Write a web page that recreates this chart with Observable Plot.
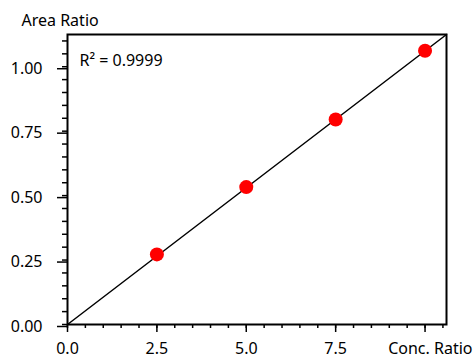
<!DOCTYPE html>
<html><head><meta charset="utf-8">
<script src="https://cdn.jsdelivr.net/npm/d3@7"></script>
<script src="https://cdn.jsdelivr.net/npm/@observablehq/plot@0.6"></script>
<style>body{margin:0;background:#fff}</style>
</head><body><div id="chart"></div>
<script>
const conc = [2.5, 5.0, 7.5, 10.0];
const area = [0.272, 0.533, 0.795, 1.062];
const fitX = [0, 10.6];
const fitY = [0, 1.125];
const xMajor = [0, 2.5, 5.0, 7.5, 10.0];
const xLabels = ["0.0", "2.5", "5.0", "7.5", ""];
const xMinor = [0, 0.5, 1, 1.5, 2, 2.5, 3, 3.5, 4, 4.5, 5, 5.5, 6, 6.5, 7, 7.5, 8, 8.5, 9, 9.5, 10, 10.5];
const yMajor = [0, 0.25, 0.5, 0.75, 1.0];
const yLabels = ["0.00", "0.25", "0.50", "0.75", "1.00"];
const yMinor = [0, 0.05, 0.1, 0.15, 0.2, 0.25, 0.3, 0.35, 0.4, 0.45, 0.5, 0.55, 0.6, 0.65, 0.7, 0.75, 0.8, 0.85, 0.9, 0.95, 1.0, 1.05, 1.1];
const titles = ["Area Ratio", "Conc. Ratio", "R² = 0.9999"];

const xl = new Map(xMajor.map((d, i) => [d, xLabels[i]]));
const yl = new Map(yMajor.map((d, i) => [d, yLabels[i]]));
const pts = conc.map((c, i) => ({c, a: area[i]}));
const fit = fitX.map((x, i) => ({x, y: fitY[i]}));

const chart = Plot.plot({
  width: 473, height: 358,
  marginLeft: 67, marginRight: 27, marginTop: 34, marginBottom: 34,
  style: {fontFamily: "Noto Sans", fontSize: "16px", color: "black", background: "white", overflow: "visible"},
  x: {domain: [0, 10.6]},
  y: {domain: [0, 1.125]},
  marks: [
    Plot.axisX(xMinor, {tickSize: 4, text: null, strokeWidth: 1.5, label: null}),
    Plot.axisX(xMajor, {tickSize: 8, tickPadding: 10, tickFormat: d => xl.get(d), strokeWidth: 1.5, label: null}),
    Plot.axisY(yMinor, {tickSize: 5, text: null, strokeWidth: 1.5, label: null}),
    Plot.axisY(yMajor, {tickSize: 10, tickPadding: 15, tickFormat: d => yl.get(d), strokeWidth: 1.5, label: null, dy: 2}),
    Plot.line(fit, {x: "x", y: "y", stroke: "black", strokeWidth: 1.5}),
    Plot.dot(pts, {x: "c", y: "a", r: 7, fill: "red"}),
    Plot.frame({stroke: "black", strokeWidth: 2}),
    Plot.text([titles[0]], {frameAnchor: "top-left", dx: -46, dy: -14, textAnchor: "start", lineAnchor: "middle"}),
    Plot.text([titles[2]], {frameAnchor: "top-left", dx: 12, dy: 26, textAnchor: "start", lineAnchor: "middle"}),
    Plot.text([titles[1]], {frameAnchor: "bottom-right", dx: 26, dy: 24, textAnchor: "end", lineAnchor: "middle"})
  ]
});
document.getElementById("chart").append(chart);
</script>
</body></html>
